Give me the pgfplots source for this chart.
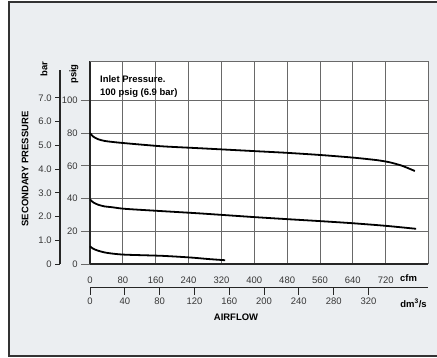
\documentclass[border=0pt]{standalone}
\usepackage{pgfplots}
\pgfplotsset{compat=1.18}
\usepackage{fontspec}
\setmainfont{Liberation Sans}
\definecolor{bgc}{RGB}{235,238,241}
\definecolor{gridc}{RGB}{105,105,105}
\definecolor{labc}{RGB}{55,55,55}
\begin{document}
\fontsize{9.5}{11.4}\selectfont
\begin{tikzpicture}[x=1bp,y=1bp]
\path[use as bounding box] (0,0) rectangle (437,357);
\fill[bgc] (9,1) rectangle (437,354.5);
\draw[line width=2bp, black!80] (437,354.5) -- (9,354.5) -- (9,1) -- (437,1);

\pgfplotsset{every axis/.append style={
  /pgf/number format/assume math mode=true,
  tick label style={font=\fontsize{9.5}{11.4}\selectfont, text=labc},
}}

% main axis (psig vs cfm)
\begin{axis}[at={(90bp,93bp)}, anchor=south west, scale only axis,
  width=338bp, height=203bp,
  xmin=0, xmax=823, ymin=0, ymax=124,
  axis background/.style={fill=white},
  axis x line*=bottom, axis y line*=left,
  axis line style={black!85, line width=1.6bp},
  xtick={0,80,...,720}, ytick={0,20,...,100},
  tick align=outside, major tick length=9bp,
  xtick style={draw=none},
  ytick style={gridc, line width=0.9bp},
  grid=major, major grid style={gridc, line width=0.9bp},
  extra x ticks={823}, extra x tick labels={},
  extra y ticks={124}, extra y tick labels={},
  extra tick style={grid=major, major tick length=0pt},
  xticklabel style={yshift=-1bp},
  clip=false]
\addplot[black, line width=1.8bp, smooth, tension=0.4] coordinates {
 (0,80.0) (8,77.8) (20,76.2) (35,75.2) (53,74.6) (85,73.8) (175,71.9) (268,70.7)
 (397,69.0) (480,67.9) (560,66.6) (640,65.0) (700,63.4) (730,62.1) (760,60.0) (791,56.8)};
\addplot[black, line width=1.8bp, smooth, tension=0.4] coordinates {
 (0,39.5) (8,37.6) (20,36.2) (35,35.2) (53,34.7) (85,33.7) (175,32.3) (268,30.9)
 (397,28.7) (480,27.4) (560,26.2) (640,24.9) (721,23.3) (794,21.5)};
\addplot[black, line width=1.8bp, smooth, tension=0.4] coordinates {
 (0,10.8) (8,9.3) (20,8.1) (35,7.1) (53,6.4) (85,5.7) (175,5.0) (243,4.0) (290,3.0) (329,2.3)};
\end{axis}

% bar axis
\begin{axis}[at={(60bp,93bp)}, anchor=south west, scale only axis,
  width=1bp, height=194bp,
  xmin=0, xmax=1, ymin=0, ymax=8.17,
  axis y line*=left, axis x line=none,
  axis line style={black!85, line width=1.1bp},
  ytick={0,1,...,7}, yticklabels={0,1.0,2.0,3.0,4.0,5.0,6.0,7.0},
  tick align=outside, major tick length=5bp,
  ytick style={black!85, line width=1bp}]
\end{axis}

% dm3/s axis
\begin{axis}[at={(90bp,69.3bp)}, anchor=south west, scale only axis,
  width=338bp, height=1bp,
  xmin=0, xmax=388.4, ymin=0, ymax=1,
  axis x line*=bottom, axis y line=none,
  axis line style={black!85, line width=1.1bp},
  xtick={0,40,...,320},
  tick align=outside, major tick length=7bp,
  xtick style={black!85, line width=1bp}]
\end{axis}

\node[font=\bfseries] at (408.5,79.3) {cfm};
\node[font=\bfseries] at (413.5,54) {dm\textsuperscript{3}/s};
\node[font=\bfseries] at (236,40) {AIRFLOW};
\node[font=\bfseries, rotate=90] at (25,188) {SECONDARY PRESSURE};
\node[font=\bfseries, rotate=90] at (44,288) {bar};
\node[font=\bfseries, rotate=90] at (74,283) {psig};
\node[font=\bfseries, anchor=base west, inner sep=0] at (100,275) {Inlet Pressure.};
\node[font=\bfseries, anchor=base west, inner sep=0] at (100,262) {100 psig (6.9 bar)};
\end{tikzpicture}
\end{document}
